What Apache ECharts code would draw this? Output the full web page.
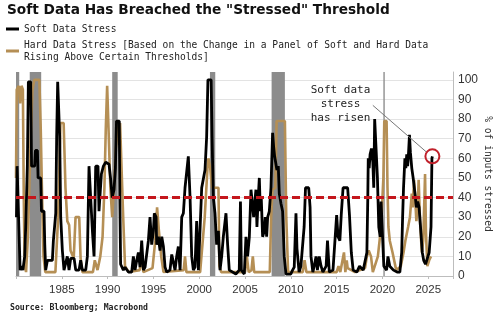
<!DOCTYPE html>
<html><head><meta charset="utf-8">
<script src="https://cdn.jsdelivr.net/npm/echarts@6/dist/echarts.min.js"></script>
<style>html,body{margin:0;padding:0;background:#fff}#c{width:500px;height:321px}</style>
</head><body><div id="c"></div>
<script>
// ---- data ----
const softName = 'Soft Data Stress';
const hardName = 'Hard Data Stress [Based on the Change in a Panel of Soft and Hard Data\nRising Above Certain Thresholds]';

const softYears = [1980.05,1980.12,1980.25,1980.3,1980.45,1980.6,1980.75,1980.95,1981.06,1981.24,1981.35,1981.6,1981.7,1982.04,1982.12,1982.34,1982.41,1982.7,1982.78,1983.06,1983.14,1983.24,1983.43,1983.97,1984.08,1984.23,1984.34,1984.44,1984.55,1984.68,1984.77,1984.88,1985.06,1985.24,1985.6,1985.79,1985.97,1986.34,1986.52,1986.88,1987.06,1987.24,1987.61,1987.79,1987.97,1988.15,1988.34,1988.52,1988.7,1988.95,1989.06,1989.32,1989.54,1989.79,1990.15,1990.34,1990.5,1990.7,1990.85,1990.97,1991.27,1991.33,1991.42,1991.72,1991.9,1992.27,1992.63,1992.81,1992.99,1993.18,1993.36,1993.54,1993.72,1993.91,1994.09,1994.45,1994.63,1994.81,1995.0,1995.1,1995.29,1995.36,1995.54,1995.72,1995.91,1996.09,1996.27,1996.45,1996.81,1997.0,1997.18,1997.36,1997.54,1997.72,1997.91,1998.09,1998.27,1998.45,1998.63,1998.81,1999.0,1999.18,1999.36,1999.54,1999.72,1999.91,2000.1,2000.27,2000.45,2000.63,2000.81,2000.95,2001.3,2001.4,2001.54,2001.72,2001.9,2002.09,2002.27,2002.45,2002.63,2002.92,2003.1,2003.28,2004.0,2004.37,2004.5,2004.6,2004.92,2005.1,2005.28,2005.47,2005.65,2005.83,2005.94,2006.05,2006.19,2006.3,2006.41,2006.56,2006.67,2006.77,2006.92,2007.1,2007.21,2007.36,2007.47,2007.65,2007.83,2008.01,2008.12,2008.23,2008.37,2008.48,2008.63,2008.74,2008.92,2009.1,2009.28,2009.47,2010.0,2010.19,2010.37,2010.56,2010.67,2010.9,2011.1,2011.45,2011.6,2011.95,2012.1,2012.2,2012.4,2012.55,2012.75,2012.9,2013.1,2013.3,2013.5,2013.85,2014.0,2014.2,2014.6,2015.0,2015.15,2015.35,2015.5,2015.7,2016.2,2016.4,2016.6,2016.8,2017.2,2017.5,2017.9,2018.3,2018.4,2018.45,2018.55,2018.65,2018.8,2018.95,2019.05,2019.15,2019.35,2019.45,2019.6,2019.75,2019.85,2020.05,2020.15,2020.45,2020.6,2020.8,2021.2,2021.6,2021.9,2022.1,2022.2,2022.3,2022.45,2022.55,2022.65,2022.75,2022.85,2022.95,2023.05,2023.2,2023.35,2023.55,2023.7,2023.85,2024.0,2024.2,2024.35,2024.5,2024.7,2024.9,2025.1,2025.3,2025.4,2025.45];
const softValues = [30,56,56,27,3,5,3,10,25,56,99,99,56,56,64,64,50,50,33,33,16,3,8,8,18,18,32,71,99,99,71,30,13,3,10,3,9,9,3,3,8,3,3,10,56,56,23,10,56,56,33,52,56,58,57,49,40,44,55,79,79,42,6,3,4.5,2,2,10,3,8,12,4.5,18,3,4.5,18,30,16,23,32,30,16,20,13,20,15,4.5,2,3,11,10,3,10,15,3,30,32,45,45,61,40,10,3,4.5,28,3,25,45,44,54,71,100,100,71,40,32,16,23,3,10,20,32,16,3,1,3,38,3,1,20,10,20,44,45,30,37,44,25,37,50,33,40,20,23,30,20,30,33,45,73,66,61,62,54,56,42,37,33,10,1,1,3,4.5,32,14,2,5,25,45,45,35,10,2,5,10,3,10,5,2,5,18,2,3,31,20,18,31,45,45,31,12,3,2,5,3,12,40,60,55,62,65,58,45,80,80,50,25,20,38,38,5,3,10,5,3,2,2,12,30,45,60,55,62,56,63,72,63,55,50,42,35,38,35,22,12,8,6,9,12,25,60,61];

const hardYears = [1980.0,1980.08,1980.3,1980.45,1980.6,1980.75,1980.85,1980.95,1981.1,1981.3,1981.45,1981.6,1981.8,1982.0,1982.55,1982.7,1982.85,1983.0,1983.2,1984.3,1984.6,1984.85,1985.2,1985.4,1985.6,1985.8,1985.95,1986.3,1986.5,1986.9,1987.05,1987.25,1988.4,1988.6,1988.9,1989.2,1989.45,1989.65,1989.8,1989.95,1990.1,1990.3,1990.5,1990.7,1990.9,1991.1,1991.36,1991.5,1991.7,1991.9,1992.3,1993.5,1993.7,1993.9,1994.9,1995.2,1995.4,1995.6,1995.85,1996.1,1998.3,1998.45,1998.6,2000.1,2000.6,2000.9,2001.0,2001.2,2001.4,2002.1,2002.2,2002.4,2005.0,2005.2,2005.4,2005.7,2005.85,2006.0,2007.7,2007.85,2008.0,2008.3,2008.45,2009.35,2009.5,2009.7,2011.3,2011.5,2011.7,2013.0,2015.0,2015.2,2015.4,2015.8,2015.95,2016.1,2016.2,2017.0,2018.1,2018.3,2018.5,2018.75,2018.95,2019.5,2019.85,2020.1,2020.2,2020.45,2020.55,2020.65,2020.8,2021.1,2021.5,2022.0,2022.3,2022.5,2022.8,2023.0,2023.2,2023.3,2023.45,2023.55,2023.7,2023.85,2023.95,2024.1,2024.3,2024.45,2024.65,2024.75,2024.9,2025.1,2025.3];
const hardValues = [50,95,97,88,97,95,40,5,2,20,45,70,95,100,100,75,40,10,2,2,30,78,78,45,28,26,13,9,30,30,9,2,2,8,3,10,20,45,75,97,75,45,30,45,65,75,78,58,30,5,2,3,10,2,4,18,35,23,10,2,3,10,2,2,30,55,60,55,45,45,5,2,2,10,2,3,10,2,2,30,44,45,79,79,30,2,2,8,2,2,2,5,2,12,2,8,4,2,4,10,13,10,2,10,25,50,79,79,45,25,18,12,3,5,12,18,25,30,42,35,49,42,28,35,49,28,12,18,52,22,5,8,10];

const recessionStarts = [1980.0, 1981.5, 1990.5, 2001.17, 2007.9, 2020.1];
const recessionEnds   = [1980.35, 1982.75, 1991.1, 2001.75, 2009.35, 2020.25];
const xTickLabels = [1985, 1990, 1995, 2000, 2005, 2010, 2015, 2020, 2025];
const yTickLabels = [0, 10, 20, 30, 40, 50, 60, 70, 80, 90, 100];
const stressedThreshold = 40;

// ---- build chart ----
const pairs = (xs, ys) => xs.map((x, i) => [x, ys[i]]);
const softData = pairs(softYears, softValues);
const hardData = pairs(hardYears, hardValues);
const latest = softData[softData.length - 1];
const X_MIN = 1980, X_MAX = 2027.7;

const chart = echarts.init(document.getElementById('c'), null, {renderer: 'canvas'});
const mono = 'DejaVu Sans Mono';
const gridColors = yTickLabels.map(() => '#e3e3e3').concat(['rgba(0,0,0,0)']);

chart.setOption({
  animation: false,
  backgroundColor: '#ffffff',
  title: [
    {text: 'Soft Data Has Breached the "Stressed" Threshold', left: 7, top: 3, padding: 0,
     textStyle: {fontFamily: 'DejaVu Sans', fontWeight: 'bold', fontSize: 13.7, color: '#111'}},
    {text: 'Source: Bloomberg; Macrobond', left: 10, top: 304, padding: 0,
     textStyle: {fontFamily: mono, fontWeight: 'bold', fontSize: 8.2, color: '#222'}}
  ],
  legend: {
    orient: 'vertical', left: 6, top: 23, padding: 0, itemWidth: 13, itemHeight: 3, itemGap: 4,
    icon: 'rect', selectedMode: false,
    data: [softName, hardName],
    textStyle: {fontFamily: mono, fontSize: 9.6, lineHeight: 12, color: '#222'}
  },
  grid: {left: 16, right: 47, top: 72, bottom: 45, containLabel: false, outerBoundsMode: 'none'},
  xAxis: {
    type: 'value', min: X_MIN, max: X_MAX, interval: 5,
    axisLine: {show: true, lineStyle: {color: '#bdbdbd', width: 1}},
    axisTick: {show: true, length: 3, lineStyle: {color: '#bdbdbd'}},
    splitLine: {show: false},
    axisLabel: {
      margin: 8, fontFamily: 'Liberation Sans', fontSize: 11.5, color: '#333',
      formatter: v => xTickLabels.includes(Math.round(v)) && Math.abs(v - Math.round(v)) < 1e-6 ? String(Math.round(v)) : ''
    }
  },
  yAxis: {
    type: 'value', position: 'right', min: 0, max: 104, interval: 10,
    name: '% of inputs stressed', nameLocation: 'middle', nameRotate: -90, nameGap: 29,
    nameMoveOverlap: false,
    nameTextStyle: {fontFamily: mono, fontSize: 9.6, color: '#333'},
    axisLine: {show: true, lineStyle: {color: '#bdbdbd', width: 1}},
    axisTick: {show: false},
    splitLine: {show: true, lineStyle: {color: gridColors, width: 1}},
    axisLabel: {
      margin: 5, fontFamily: 'Liberation Sans', fontSize: 12, color: '#333',
      formatter: v => yTickLabels.includes(v) ? String(v) : ''
    }
  },
  series: [
    {
      name: 'recessions', type: 'line', data: [], z: 1, silent: true,
      markArea: {
        silent: true,
        itemStyle: {color: '#8c8c8c', opacity: 1},
        data: recessionStarts.map((s, i) => [{xAxis: s}, {xAxis: recessionEnds[i]}])
      }
    },
    {
      name: hardName, type: 'line', data: hardData, z: 3, showSymbol: false,
      color: '#b58f55', lineStyle: {color: '#b58f55', width: 2.6}
    },
    {
      name: softName, type: 'line', data: softData, z: 4, showSymbol: false,
      color: '#000000', lineStyle: {color: '#000000', width: 2.8},
      markPoint: {
        silent: true,
        data: [{coord: latest, symbol: 'circle', symbolSize: 14,
                itemStyle: {color: 'rgba(0,0,0,0)', borderColor: '#c0202a', borderWidth: 2},
                label: {show: false}}]
      }
    },
    {
      name: 'threshold', type: 'line', data: [], z: 5, silent: true,
      markLine: {
        silent: true, symbol: 'none', label: {show: false},
        lineStyle: {color: '#c4161c', width: 2.8, type: [8, 4], opacity: 1},
        data: [[{coord: [X_MIN, stressedThreshold]}, {coord: [X_MAX, stressedThreshold]}]]
      }
    },
    {
      name: 'pointer', type: 'line', data: [], z: 5, silent: true,
      markLine: {
        silent: true, symbol: 'none', label: {show: false},
        lineStyle: {color: '#777777', width: 1, type: 'solid'},
        data: [[{coord: [2018.95, 87]}, {coord: [2024.85, 63]}]]
      }
    }
  ],
  graphic: [
    {type: 'text', x: 340.5, y: 83, z: 10,
     style: {text: 'Soft data\nstress\nhas risen', textAlign: 'center', fontFamily: mono,
             fontSize: 11, lineHeight: 14, fill: '#222'}}
  ]
});
</script>
</body></html>
